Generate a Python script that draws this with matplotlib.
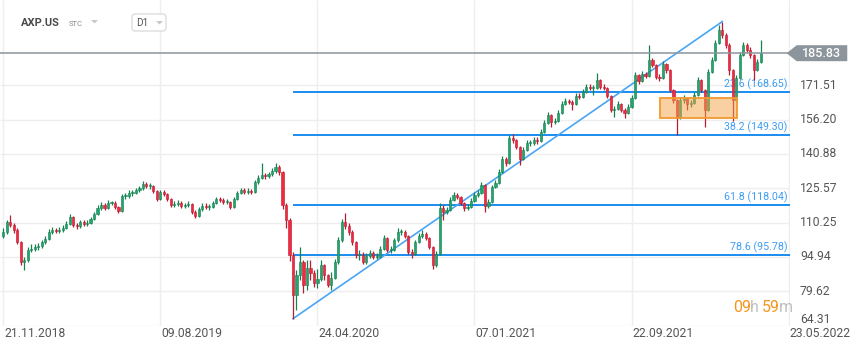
import numpy as np
import matplotlib.pyplot as plt
from matplotlib.patches import Rectangle, Polygon, FancyBboxPatch
from matplotlib import transforms

plt.rcParams['font.family'] = ['Roboto', 'DejaVu Sans']

symbol = "AXP.US"
interval = "D1"

# candles (one bar per ~4 sessions), open of each bar = previous close
first_open = 104.3
closes = [106.1, 110.6, 109.2, 107.0, 101.7, 92.7, 93.6, 98.1, 98.5, 99.4,
          99.8, 101.6, 103.0, 106.1, 107.0, 106.5, 107.0, 107.9, 109.7, 112.8,
          109.2, 108.8, 110.6, 109.7, 110.1, 111.9, 114.1, 116.8, 118.1, 116.8,
          119.0, 119.0, 117.2, 115.5, 122.1, 122.1, 123.5, 123.5, 124.8, 125.7,
          127.5, 126.6, 126.6, 124.4, 120.8, 123.9, 123.0, 120.8, 118.1, 118.6,
          119.0, 117.7, 118.1, 118.6, 115.0, 113.2, 116.3, 117.7, 117.2, 117.2,
          119.0, 120.8, 120.4, 119.5, 119.5, 117.2, 120.8, 123.5, 124.8, 123.9,
          124.4, 123.9, 128.4, 130.2, 131.5, 131.1, 131.9, 133.3, 135.1, 132.9,
          118.1, 111.4, 95.8, 78.0, 86.9, 92.7, 82.5, 90.0, 87.8, 83.3,
          85.1, 91.4, 86.9, 82.5, 85.6, 92.7, 102.5, 110.6, 108.8, 106.1,
          101.6, 95.8, 95.8, 92.7, 95.4, 96.7, 94.9, 94.9, 98.5, 103.4,
          98.1, 98.1, 102.5, 106.1, 106.1, 104.3, 97.2, 96.3, 101.6, 104.3,
          105.2, 103.4, 99.4, 91.4, 96.3, 116.8, 115.0, 115.9, 120.4, 122.6,
          121.7, 119.0, 116.8, 117.2, 120.0, 122.6, 123.5, 127.0, 117.7, 119.5,
          126.2, 127.9, 132.9, 138.6, 136.9, 148.0, 147.1, 144.0, 138.6, 142.7,
          145.8, 145.8, 147.1, 146.7, 150.7, 154.7, 158.3, 155.2, 155.6, 159.2,
          163.2, 164.5, 164.1, 163.2, 166.8, 166.3, 168.5, 170.8, 170.3, 170.3,
          173.9, 170.8, 170.3, 166.8, 160.5, 161.0, 163.2, 160.5, 159.2, 161.9,
          165.9, 176.1, 173.4, 176.6, 175.7, 182.8, 180.6, 175.2, 174.8, 181.0,
          178.3, 169.4, 165.0, 156.9, 165.0, 165.9, 163.2, 163.6, 167.2, 173.9,
          169.4, 160.5, 177.4, 182.8, 190.4, 196.2, 193.9, 189.5, 178.3, 165.0,
          174.8, 185.0, 189.5, 187.3, 185.0, 178.3, 182.0, 185.83]
highs = [107.8, 111.4, 113.8, 110.3, 108.0, 102.2, 95.0, 99.2, 100.5, 100.8,
         101.3, 102.6, 104.3, 107.2, 108.3, 108.0, 108.2, 109.0, 110.8, 114.0,
         113.4, 110.3, 111.5, 111.4, 111.2, 112.9, 115.2, 117.9, 119.3, 118.9,
         120.2, 120.1, 119.7, 117.8, 123.0, 123.4, 124.6, 124.8, 125.9, 126.8,
         128.6, 128.4, 127.8, 127.2, 125.0, 124.8, 124.7, 123.6, 121.3, 119.8,
         120.2, 119.8, 119.2, 119.7, 119.1, 115.8, 117.2, 118.8, 118.9, 118.4,
         120.1, 121.9, 121.8, 121.3, 120.7, 120.0, 121.8, 124.5, 125.9, 125.6,
         125.5, 125.3, 129.3, 131.3, 136.9, 132.6, 133.0, 134.4, 137.0, 135.8,
         133.3, 119.0, 112.5, 97.0, 89.0, 99.5, 93.6, 93.6, 93.6, 89.1,
         89.6, 93.6, 91.8, 87.4, 88.0, 93.8, 103.9, 111.9, 114.6, 110.0,
         106.9, 102.2, 98.1, 97.2, 96.5, 98.0, 97.6, 96.5, 99.6, 104.8,
         104.0, 99.6, 103.6, 107.9, 107.4, 106.9, 104.8, 98.4, 102.6, 105.4,
         106.9, 106.0, 103.9, 99.8, 97.6, 119.0, 118.2, 117.2, 121.5, 123.8,
         123.5, 122.3, 119.6, 118.6, 121.1, 123.7, 124.8, 128.4, 127.5, 121.0,
         127.2, 129.3, 134.2, 139.8, 139.5, 149.5, 149.8, 147.6, 144.5, 143.8,
         147.0, 147.3, 148.3, 148.4, 152.0, 156.0, 159.5, 158.8, 157.0, 160.4,
         164.4, 165.9, 165.6, 165.0, 168.0, 168.1, 169.8, 172.0, 172.3, 171.8,
         177.0, 174.5, 172.0, 170.9, 167.3, 162.4, 164.4, 163.8, 161.2, 163.0,
         167.2, 177.4, 176.7, 177.8, 177.5, 189.5, 183.6, 181.2, 176.5, 182.4,
         181.6, 178.9, 170.0, 165.5, 166.3, 167.2, 166.5, 165.0, 168.5, 175.2,
         174.5, 170.0, 178.6, 184.0, 191.6, 198.4, 199.9, 195.0, 190.2, 178.8,
         176.0, 186.3, 190.8, 190.4, 188.6, 185.6, 183.3, 191.7]
lows = [103.4, 105.2, 108.4, 105.5, 100.5, 91.5, 89.1, 92.8, 97.2, 97.6,
        98.2, 99.0, 100.8, 102.5, 105.3, 105.4, 105.6, 106.2, 107.2, 109.0,
        108.3, 107.6, 108.0, 108.6, 108.9, 109.5, 111.3, 113.5, 116.0, 115.8,
        116.2, 117.9, 116.3, 114.4, 115.0, 120.8, 121.4, 122.3, 122.8, 124.0,
        125.0, 125.6, 125.3, 123.4, 119.9, 120.2, 122.0, 119.8, 117.2, 117.3,
        117.7, 116.8, 116.9, 117.2, 114.2, 112.3, 112.8, 115.6, 116.2, 116.0,
        116.6, 118.4, 119.5, 118.6, 118.4, 116.3, 116.7, 120.2, 122.8, 122.9,
        123.0, 122.9, 123.3, 127.7, 129.5, 129.9, 130.3, 131.2, 132.6, 131.6,
        116.5, 108.0, 93.0, 67.4, 71.3, 84.7, 78.9, 80.2, 84.7, 81.6,
        81.1, 84.2, 84.7, 81.6, 80.2, 85.0, 92.0, 101.8, 107.5, 104.8,
        100.3, 94.6, 93.6, 91.6, 92.0, 94.5, 93.8, 93.8, 94.3, 97.9,
        97.2, 96.8, 97.5, 101.8, 104.9, 103.2, 96.3, 94.5, 95.7, 101.0,
        103.6, 102.4, 98.5, 89.6, 90.5, 96.0, 111.4, 114.0, 115.3, 119.8,
        120.8, 118.1, 115.5, 115.9, 116.6, 119.4, 121.9, 122.9, 115.0, 116.8,
        118.9, 125.5, 127.3, 132.3, 135.5, 136.3, 145.9, 142.9, 136.0, 138.0,
        142.1, 144.5, 145.0, 145.5, 146.1, 150.1, 154.1, 152.9, 154.3, 155.0,
        158.6, 162.5, 163.0, 160.5, 162.6, 165.2, 165.7, 167.9, 169.2, 167.2,
        169.7, 169.7, 169.2, 165.7, 159.4, 157.4, 160.4, 159.4, 156.9, 158.6,
        161.3, 165.3, 172.3, 172.8, 174.6, 175.1, 179.5, 174.1, 173.6, 174.2,
        177.2, 168.3, 163.6, 149.5, 156.3, 163.8, 160.5, 162.0, 163.0, 166.6,
        168.3, 152.9, 159.9, 176.8, 182.2, 189.8, 192.8, 188.2, 176.1, 155.6,
        164.0, 174.2, 184.4, 186.2, 183.9, 173.9, 177.7, 181.4]

date_ticks = [0, 45, 90, 135, 180, 225]
date_labels = ["21.11.2018", "09.08.2019", "24.04.2020", "07.01.2021", "22.09.2021", "23.05.2022"]
price_ticks = [64.31, 79.62, 94.94, 110.25, 125.57, 140.88, 156.20, 171.51]
last_price = 185.83

# fibonacci retracement drawn on the 2020 low -> 2021 high swing
fib_low, fib_high = 67.40, 199.93
swing_low_bar, swing_high_bar = 83, 206
fib_levels = [23.6, 38.2, 61.8, 78.6]
fib_prices = [168.65, 149.30, 118.04, 95.78]
zone_bars = (188.2, 210.2)
zone_prices = (156.8, 165.7)

W, H = 859, 351
fig = plt.figure(figsize=(W / 100, H / 100), dpi=100)
ax = fig.add_axes([0, 25.4 / H, 790 / W, 325.6 / H])
ymin, ymax = 64.31, 209.56
xmin, xmax = -0.95, 225.4
ax.set_xlim(xmin, xmax)
ax.set_ylim(ymin, ymax)
ax.set_axis_off()

# grid
ax.hlines(price_ticks, xmin, xmax, color='#eeeeee', lw=1, zorder=0)
ax.vlines(date_ticks, ymin, ymax, color='#eeeeee', lw=1, zorder=0)

right = transforms.blended_transform_factory(ax.transAxes, ax.transData)
bottom = transforms.blended_transform_factory(ax.transData, ax.transAxes)
for p in price_ticks:
    ax.text(1.0127, p, f"{p:.2f}", transform=right, ha='left',
            va='bottom' if p == price_ticks[0] else 'center',
            fontsize=8.7, color='#555555', clip_on=False)
for t, lbl in zip(date_ticks, date_labels):
    ax.annotate(lbl, xy=(t, 0), xycoords=bottom, xytext=(0.5, -6),
                textcoords='offset points', ha='left', va='center',
                fontsize=8.7, color='#555555', annotation_clip=False)

# candles
c = np.array(closes)
o = np.array([first_open] + closes[:-1])
x = np.arange(len(c))
up = c >= o
edge = np.where(up, '#168050', '#b81c30')
body = np.where(up, '#22a56f', '#f5283f')
ax.vlines(x, lows, highs, colors=edge, lw=0.9, zorder=3)
h = np.where(np.abs(c - o) < 0.3, 0.3, c - o)
ax.bar(x, h, bottom=o, width=0.62, color=body, edgecolor=edge, lw=0.4, zorder=4)

# fibonacci levels
ax.hlines(fib_prices, swing_low_bar, xmax, color='#1a8cf0', lw=1.4, zorder=2)
for lvl, p in zip(fib_levels, fib_prices):
    ax.annotate(f"{lvl} ({p:.2f})", xy=(224.6, p), xytext=(0, 5.5),
                textcoords='offset points', ha='right', va='center',
                fontsize=7.7, color='#3d9df5', zorder=1.5)
ax.plot([swing_low_bar, swing_high_bar], [fib_low, fib_high], color='#4aa5f5', lw=1.2, zorder=2.5)

# support zone
ax.add_patch(Rectangle((zone_bars[0], zone_prices[0]), zone_bars[1] - zone_bars[0],
                       zone_prices[1] - zone_prices[0], facecolor=(0.96, 0.64, 0.27, 0.5),
                       edgecolor='#f29a2e', lw=1.3, zorder=5))

# last price line and tag
ax.axhline(last_price, color='#8c959b', lw=1.1, zorder=6)
hh = 3.57
ax.add_patch(Polygon([(0.9958, last_price), (1.0085, last_price + hh), (1.0725, last_price + hh),
                      (1.0725, last_price - hh), (1.0085, last_price - hh)],
                     closed=True, transform=right, facecolor='#8c959b', edgecolor='none',
                     clip_on=False, zorder=7))
ax.text(1.0405, last_price, f"{last_price:.2f}", transform=right, ha='center', va='center',
        fontsize=9, color='white', fontweight='medium', clip_on=False, zorder=8)

# header
px = transforms.IdentityTransform()
fig.text(21, H - 23.5, symbol, transform=px, ha='left', va='center', fontsize=8,
         fontweight='bold', color='#4a4a4a')
fig.text(69, H - 24, "STC", transform=px, ha='left', va='center', fontsize=5.5, color='#8a8a8a')
fig.add_artist(Polygon([(91, H - 20), (98, H - 20), (94.5, H - 23.5)], closed=True,
                       transform=px, facecolor='#c8c8c8', edgecolor='none'))
fig.add_artist(FancyBboxPatch((132, H - 31), 34, 17, boxstyle='round,pad=0,rounding_size=3',
                              transform=px, facecolor='white', edgecolor='#dddddd', lw=1))
fig.text(136, H - 23, interval, transform=px, ha='left', va='center', fontsize=7.2, color='#555555')
fig.add_artist(Polygon([(156, H - 21), (163, H - 21), (159.5, H - 24.5)], closed=True,
                       transform=px, facecolor='#c8c8c8', edgecolor='none'))

# countdown to next candle
for s, xx, col in [("09", 733, '#f7941d'), ("h", 750, '#c0c0c0'),
                   ("59", 762, '#f7941d'), ("m", 779, '#c0c0c0')]:
    fig.text(xx, H - 311.5, s, transform=px, ha='left', va='baseline', fontsize=11.5, color=col)

fig.savefig("out.png", dpi=100)
